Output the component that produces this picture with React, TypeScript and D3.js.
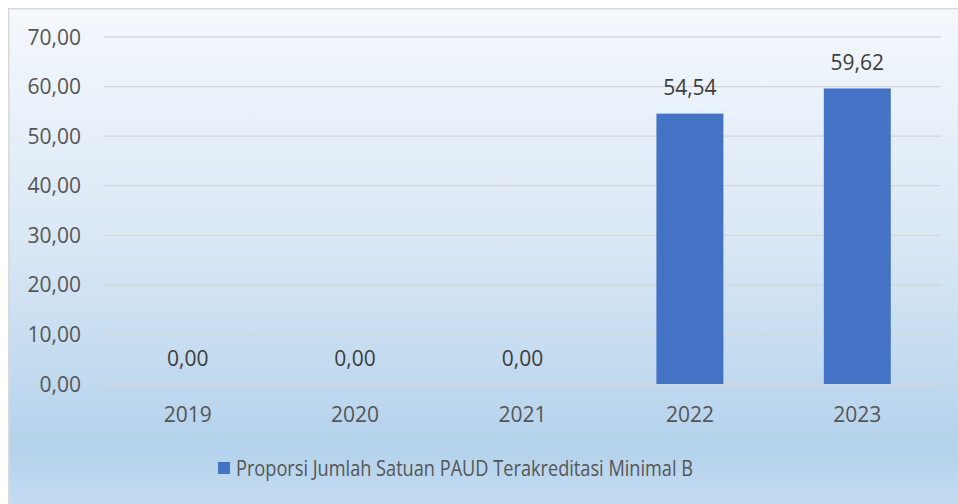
import React from "react";
import * as d3 from "d3";

const categories = ["2019", "2020", "2021", "2022", "2023"];
const values = [0, 0, 0, 54.54, 59.62];
const yTicks = [0, 10, 20, 30, 40, 50, 60, 70];
const seriesName = "Proporsi Jumlah Satuan PAUD Terakreditasi Minimal B";

const W = 958;
const H = 504;
const FONT = "'Open Sans', 'Noto Sans', sans-serif";
const FS = 21;

const fmt = (v: number) => v.toFixed(2).replace(".", ",");

export default function App() {
  const y = d3.scaleLinear().domain([0, 70]).range([384, 37]);
  const band = d3.scaleBand<string>().domain(categories).range([104, 941]);

  return (
    <svg width={W} height={H} style={{ position: "absolute", left: 0, top: 0 }} fontFamily={FONT}>
      <defs>
        <linearGradient id="bg" x1="0" y1="0" x2="0" y2="1">
          <stop offset="0" stopColor="#f5f8fd" />
          <stop offset="0.45" stopColor="#d9e7f5" />
          <stop offset="0.84" stopColor="#b4d2ec" />
          <stop offset="1" stopColor="#cce0f3" />
        </linearGradient>
      </defs>
      <rect x={0} y={0} width={W} height={H} fill="#ffffff" />
      <rect x={8.75} y={8.75} width={W + 20} height={H + 20} fill="url(#bg)" stroke="#d9d9d9" strokeWidth={1.5} />
      {yTicks.map((t) => (
        <g key={t}>
          <line x1={104} x2={941} y1={y(t)} y2={y(t)} stroke="#d6d6d6" strokeWidth={1.3} />
          <text x={81} y={y(t) + 7.5} textAnchor="end" fontSize={FS} fill="#555555">
            {fmt(t)}
          </text>
        </g>
      ))}
      {categories.map((c, i) => {
        const cx = (band(c) as number) + band.bandwidth() / 2;
        const bw = band.bandwidth() * 0.4;
        const v = values[i];
        return (
          <g key={c}>
            {v > 0 && (
              <rect x={cx - bw / 2} y={y(v)} width={bw} height={y(0) - y(v)} fill="#4472c4" />
            )}
            <text x={cx} y={y(v) - 18.5} textAnchor="middle" fontSize={FS} fill="#3c3c3c">
              {fmt(v)}
            </text>
            <text x={cx} y={422} textAnchor="middle" fontSize={FS} fill="#555555">
              {c}
            </text>
          </g>
        );
      })}
      <rect x={218} y={462} width={12} height={12} fill="#4472c4" />
      <text x={236} y={476} fontSize={FS} fill="#555555" textLength={457} lengthAdjust="spacingAndGlyphs">
        {seriesName}
      </text>
    </svg>
  );
}
